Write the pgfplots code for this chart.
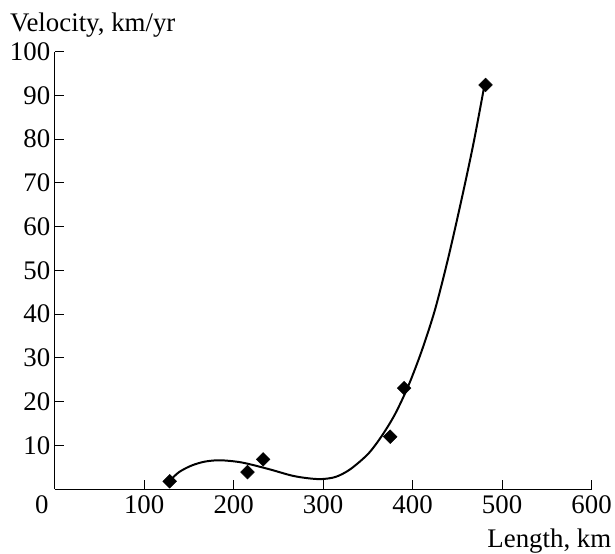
\documentclass[border=0pt]{standalone}
\usepackage{fontspec}
\setmainfont{Liberation Serif}
\usepackage{pgfplots}
\pgfplotsset{compat=1.18}
\begin{document}
\begin{tikzpicture}[font=\fontsize{27}{32}\selectfont]
\begin{axis}[
  scale only axis,
  width=540pt, height=440pt,
  xmin=0, xmax=600, ymin=0, ymax=100,
  axis x line=bottom, axis y line=left,
  axis line style={-, line width=1.1pt},
  tick align=inside,
  major tick length=9pt,
  tick style={line width=1.1pt, black},
  xtick={100,200,...,600},
  ytick={10,20,...,100},
  extra x ticks={0},
  extra x tick style={major tick length=0pt, xticklabel style={xshift=-13pt}},
  /pgf/number format/assume math mode=true,
  ticklabel style={font=\fontsize{27}{32}\selectfont},
  xticklabel style={yshift=-3pt},
  yticklabel style={xshift=-1pt},
  clip=false,
  xlabel={Length, km},
  xlabel style={font=\fontsize{27}{32}\selectfont, at={(axis description cs:1,0)}, anchor=base east, inner sep=0pt, xshift=20pt, yshift=-59pt},
  ylabel={Velocity, km/yr},
  ylabel style={font=\fontsize{27}{32}\selectfont, rotate=-90, at={(axis description cs:0,1)}, anchor=base west, inner sep=0pt, xshift=-45pt, yshift=20pt},
]
% fitted curve
\addplot[black, line width=2pt, smooth, tension=0.5] coordinates {
  (129,2.0) (139,3.9) (153,5.4) (168,6.3) (185,6.6) (209,6.1) (239,4.6)
  (265,3.1) (283,2.5) (298,2.3) (314,2.8) (330,4.5) (350,8.0) (365,12.0)
  (380,17.0) (395,23.5) (410,31.5) (425,41) (440,53) (455,66.5) (468,79) (480,92)
};
% observations
\addplot[only marks, mark=square*, mark size=4.9pt, mark options={rotate=45, fill=black, draw=black}] coordinates {
  (128.5,1.8) (215.5,3.9) (233,6.8) (375,12.0) (390.5,23.1) (481.5,92.4)
};
\path (rel axis cs:0,0) ++(-55pt,-65pt) rectangle ++(615pt,557pt);
\end{axis}
\end{tikzpicture}
\end{document}
